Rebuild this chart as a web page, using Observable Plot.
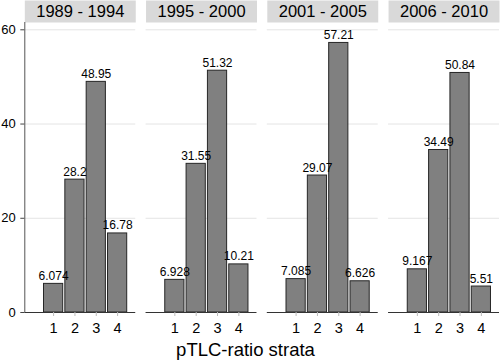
<!DOCTYPE html>
<html><head><meta charset="utf-8">
<script src="https://cdn.jsdelivr.net/npm/d3@7"></script>
<script src="https://cdn.jsdelivr.net/npm/@observablehq/plot@0.6"></script>
<style>
body{margin:0;background:#fff;font-family:"Liberation Sans",Arial,sans-serif;}
#wrap{position:relative;width:501px;height:362px;}
#xlabel{position:absolute;left:0;width:491px;top:338px;height:24px;line-height:24px;text-align:center;font-size:18.5px;color:#000;}
</style></head>
<body><div id="wrap"><div id="chart"></div><div id="xlabel"></div></div>
<script>
const periods = ["1989 - 1994", "1995 - 2000", "2001 - 2005", "2006 - 2010"];
const strata = [1, 2, 3, 4];
const v1989 = [6.074, 28.2, 48.95, 16.78];
const v1995 = [6.928, 31.55, 51.32, 10.21];
const v2001 = [7.085, 29.07, 57.21, 6.626];
const v2006 = [9.167, 34.49, 50.84, 5.51];
const yTicks = [0, 20, 40, 60];
const xLabel = "pTLC-ratio strata";

const series = [v1989, v1995, v2001, v2006];
const table = [];
periods.forEach((p, i) => strata.forEach((s, j) => table.push({period: p, s, v: series[i][j]})));

const H = 338, MT = 22, MB = 26;
const xDomain = [-0.35, 4.85];
const yDomain = [0, 61.55];

const chart = Plot.plot({
  width: 501, height: H,
  marginTop: MT, marginBottom: MB, marginLeft: 24.3, marginRight: 2,
  style: {fontFamily: "'Liberation Sans', Arial, sans-serif", fontSize: "13px", color: "#000", background: "#fff"},
  fx: {domain: periods, axis: null, paddingInner: 0.085, paddingOuter: 0, round: false},
  x: {domain: xDomain},
  y: {domain: yDomain},
  marks: [
    Plot.frame({fill: "#d9d9d9", stroke: "none", insetTop: -MT, insetBottom: H - MT - MB}),
    Plot.gridY(yTicks.filter(t => t > 0), {stroke: "#e4e4e4", strokeOpacity: 1}),
    Plot.text(periods, {fx: d => d, text: d => d, frameAnchor: "top", lineAnchor: "middle", dy: -11, fontSize: 16.5}),
    Plot.rectY(table, {fx: "period", x1: d => d.s - 0.45, x2: d => d.s + 0.45, y1: 0, y2: "v", fill: "#808080", stroke: "#262626", strokeWidth: 1}),
    Plot.text(table, {fx: "period", x: "s", y: "v", text: d => String(d.v), lineAnchor: "bottom", dy: -4, fontSize: 12}),
    Plot.ruleX([periods[0]], {fx: d => d, x: () => xDomain[0], y1: () => yDomain[0], y2: () => yDomain[1], stroke: "#555"}),
    Plot.ruleY([0], {stroke: "#333"}),
    Plot.axisY(yTicks, {tickSize: 4, tickPadding: 5, fontSize: 13, stroke: "#444", label: null}),
    Plot.axisX(strata, {tickSize: 4, tickPadding: 6, fontSize: 14.5, stroke: "#bbb", label: null})
  ]
});
document.getElementById("chart").appendChild(chart);
document.getElementById("xlabel").textContent = xLabel;
</script>
</body></html>
